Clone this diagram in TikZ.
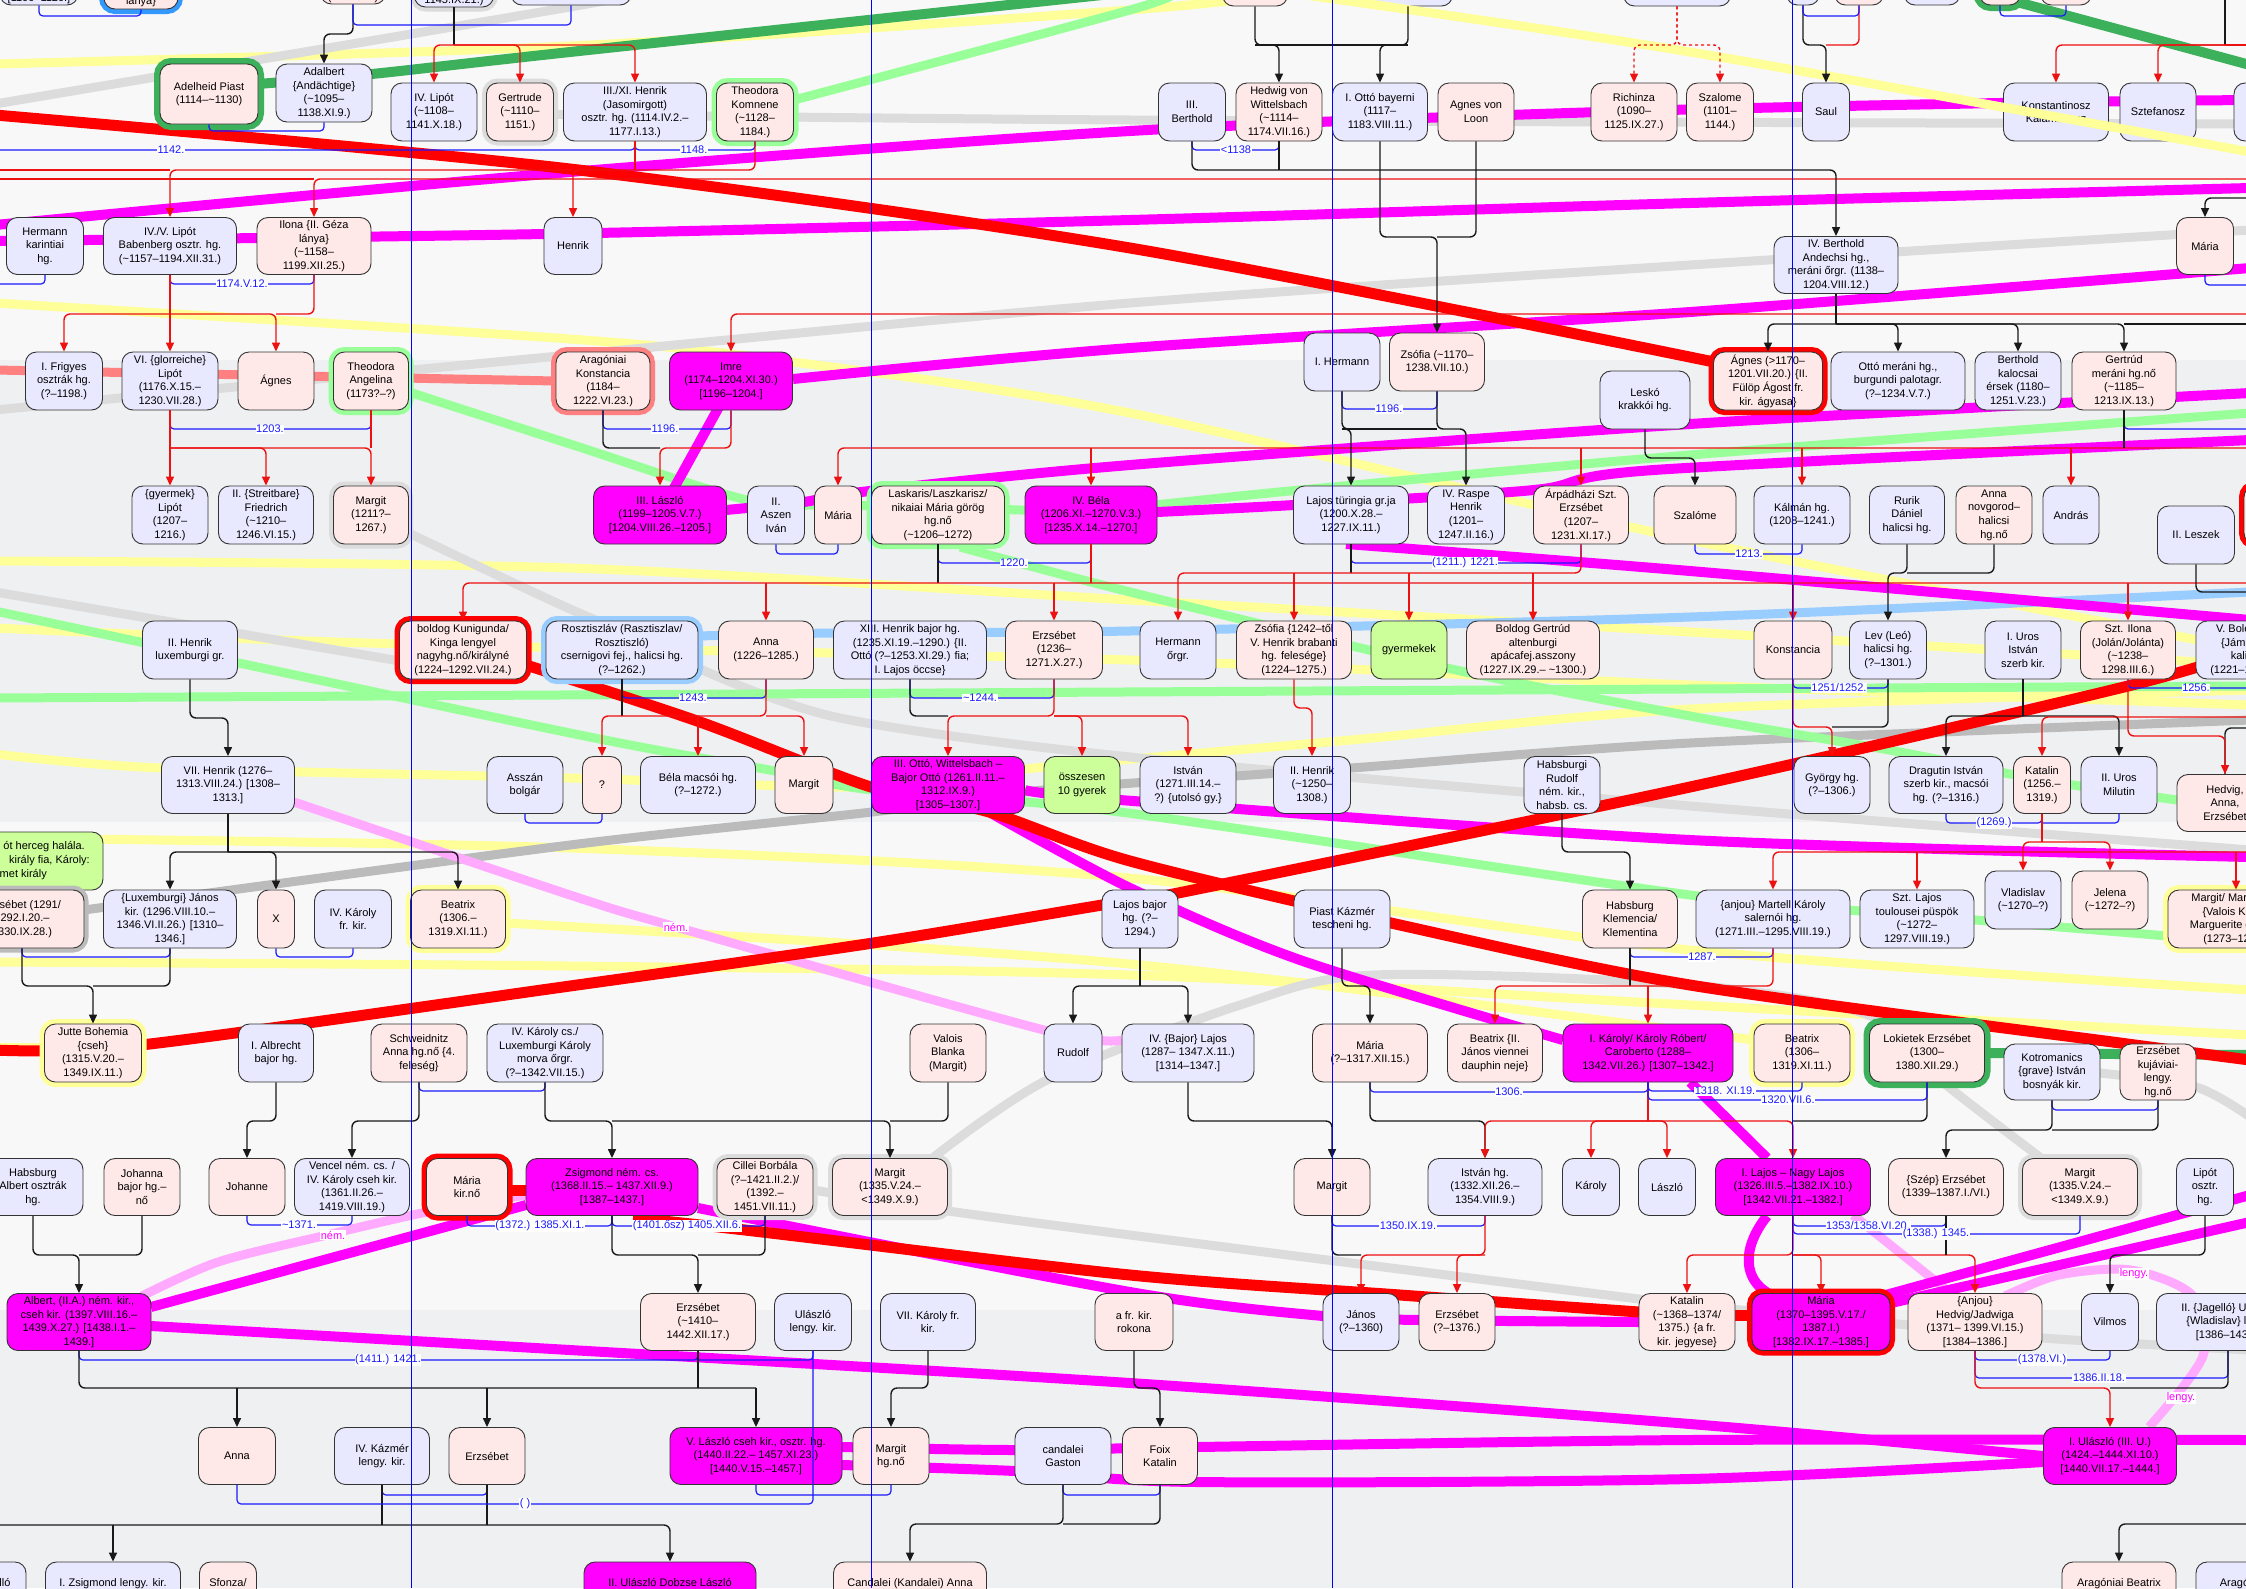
\documentclass[tikz,border=0pt]{standalone}
\usepackage{fontspec}
\setmainfont{Liberation Sans}
\usetikzlibrary{arrows.meta}
\definecolor{male}{HTML}{E8E8FF}
\definecolor{fem}{HTML}{FFE8E8}
\definecolor{king}{HTML}{FF00FF}
\definecolor{note}{HTML}{CCFF99}
\definecolor{bgA}{HTML}{F8F8F8}
\definecolor{bgB}{HTML}{EFF0F2}
\definecolor{mblue}{HTML}{1A1AFF}
\definecolor{rline}{HTML}{EE1111}
\definecolor{ylw}{HTML}{FFFF99}
\definecolor{lgray}{HTML}{DCDCDC}
\definecolor{dgray}{HTML}{BBBBBB}
\definecolor{lgreen}{HTML}{99FF99}
\definecolor{dgreen}{HTML}{3CB05A}
\definecolor{lblue}{HTML}{99CCFF}
\definecolor{salmon}{HTML}{FF8080}
\definecolor{pinkr}{HTML}{FFAAFF}
\definecolor{hblue}{HTML}{3399FF}
\newcommand\fs{\fontsize{11}{13.6}\selectfont}
\newcommand\tl{\textasciitilde}
\newcommand\bx[6]{\node[#1, minimum width=#4pt, minimum height=#5pt] (#2) at (#3) {#6};}
\tikzset{
 box/.style={rounded corners=11pt, draw=black!80, line width=0.9pt, align=center, inner sep=1.5pt, font=\fs, text=black},
 M/.style={box, fill=male}, F/.style={box, fill=fem}, K/.style={box, fill=king}, N/.style={box, fill=note},
 hgreen/.style={preaction={draw=dgreen, line width=12pt}},
 hlgreen/.style={preaction={draw=lgreen, line width=10pt}},
 hred/.style={preaction={draw=red, line width=10pt}},
 hsal/.style={preaction={draw=salmon, line width=10pt}},
 hgray/.style={preaction={draw=lgray, line width=9pt}},
 hdgray/.style={preaction={draw=dgray, line width=9pt}},
 hyel/.style={preaction={draw=ylw, line width=10pt}},
 hlblue/.style={preaction={draw=lblue, line width=10pt}},
 hblue/.style={preaction={draw=hblue, line width=10pt}},
 blk/.style={draw=black!90, line width=1.4pt, rounded corners=6pt},
 rd/.style={draw=rline, line width=1.4pt, rounded corners=6pt},
 ba/.style={blk, -{Triangle[length=9pt,width=8pt]}},
 ra/.style={rd, -{Triangle[length=9pt,width=8pt]}},
 mar/.style={draw=mblue, line width=1.2pt, rounded corners=4pt},
 lbl/.style={fill=white, text=mblue, inner sep=0.6pt, font=\fs},
 plbl/.style={fill=white, text=king, inner sep=0.6pt, font=\fs},
 toptxt/.style={font=\fs, anchor=base, inner sep=0pt},
 rib/.style={line width=9pt, line join=round},
 mg/.style={rib, draw=king, line width=10pt},
 rt/.style={rib, draw=red, line width=11pt},
}
\begin{document}
\begin{tikzpicture}[x=1pt,y=-1pt]
\useasboundingbox (0,0) rectangle (2246,1588);
\clip (0,0) rectangle (2246,1588);
\fill[bgA] (0,0) rectangle (2246,360);
\fill[bgB] (0,360) rectangle (2246,822);
\fill[bgA] (0,822) rectangle (2246,1310);
\fill[bgB] (0,1310) rectangle (2246,1588);
\foreach \y in {16,25,34,45,131,150,170,179,198,237,284,285,314,324,409,429,448,458,554,563,573,583,592,688,698,708,716,718,727,728,736,823,842,852,957,986,1091,1092,1100,1110,1121,1130,1225,1226,1234,1255,1360,1378,1388,1495,1504,1524,1525}{\coordinate (y\y) at (0,\y);}

% ---------- ribbons ----------
\draw[rib,ylw] plot[smooth] coordinates {(-5,64) (570,46) (1130,10) (1300,-8)};
\draw[rib,ylw] plot[smooth] coordinates {(-5,303) (570,339) (793,362) (1130,413) (1690,540) (2250,650)};
\draw[rib,ylw] plot[smooth] coordinates {(-5,561) (570,568) (1130,600) (1690,632) (2250,665)};
\draw[rib,ylw] plot[smooth] coordinates {(-5,628) (400,644) (1130,660) (1690,685) (2250,705)};
\draw[rib,ylw] plot[smooth] coordinates {(-5,754) (161,768) (570,778) (872,787) (1044,767) (1351,740) (1690,709) (2250,690)};
\draw[rib,ylw] plot[smooth] coordinates {(-5,838) (570,848) (1130,878) (1690,950) (2250,990)};
\draw[rib,ylw] plot[smooth] coordinates {(506,923) (1130,964) (1754,1040)};
\draw[rib,ylw] plot[smooth] coordinates {(-5,962) (570,966) (1130,975) (1690,1005) (2250,1035)};
\draw[rib,ylw] (-5,1047) -- (44,1047);

\draw[rib,lgray] plot[smooth] coordinates {(-5,104) (570,7) (640,-8)};
\draw[rib,lgray] plot[smooth] coordinates {(-5,410) (570,355) (1130,303) (1690,265) (2250,230)};
\draw[rib,lgray] plot[smooth] coordinates {(520,114) (1130,120) (2250,124)};
\draw[rib,lgray] plot[smooth] coordinates {(-5,592) (400,661)};
\draw[rib,lgray] plot[smooth] coordinates {(371,515) (570,609) (698,661)};
\draw[rib,lgray] plot[smooth] coordinates {(698,668) (840,718) (1130,757) (1690,806) (2250,850)};
\draw[rib,dgray] plot[smooth] coordinates {(84,910) (570,845) (872,812) (1044,790) (1351,768) (1690,743) (2250,720)};
\draw[rib,lgray] plot[smooth] coordinates {(930,1160) (1047,1080) (1240,1005) (1374,975) (1690,985) (1868,1015) (1940,1080) (2041,1158)};
\draw[rib,lgray] plot[smooth] coordinates {(813,1190) (948,1211) (1130,1235) (1639,1299) (1752,1311) (1908,1325) (2042,1338) (2250,1350)};
\draw[rib,lgray] plot[smooth] coordinates {(2100,1073) (2196,1087) (2250,1117)};

\draw[rib,lgreen] plot[smooth] coordinates {(794,100) (1130,10) (1175,-8)};
\draw[rib,lgreen] plot[smooth] coordinates {(409,392) (570,444) (747,500) (838,505) (938,507) (1091,510) (1300,490) (1690,455) (2250,413)};
\draw[rib,lgreen] plot[smooth] coordinates {(960,547) (1130,592) (1447,668) (1690,716) (1889,750) (2042,780) (2177,800)};
\draw[rib,lgreen] (-5,698) -- (2250,686);
\draw[rib,lgreen] plot[smooth] coordinates {(-5,611) (570,733) (775,771) (872,790) (1120,812) (1690,895) (1917,915) (2168,936)};
\draw[rib,lblue] plot[smooth] coordinates {(698,636) (833,633) (1130,631) (1690,617) (2250,592)};
\draw[rib,dgreen,line width=10pt] plot[smooth] coordinates {(258,84) (372,74) (570,52) (1130,-8)};
\draw[rib,dgreen,line width=10pt] (1980,-8) -- (2250,65);
\draw[rib,dgreen,line width=10pt] (1985,1053) -- (2250,1055);
\draw[rib,salmon] (-5,370) -- (556,381);

\draw[rib,pinkr] plot[smooth] coordinates {(294,802) (570,895) (676,927) (1044,1030) (1122,1040)};
\draw[rib,pinkr] plot[smooth] coordinates {(526,1195) (427,1212) (327,1235) (218,1262) (142,1296)};
\draw[rib,pinkr] plot[smooth] coordinates {(2149,1427) (2203,1356) (2193,1296) (2131,1270) (2059,1275) (2005,1296)};
\draw[rib,pinkr] (1853,1215) -- (1954,1296);

\draw[mg] plot[smooth] coordinates {(-5,225) (570,172) (1130,131) (1600,112) (2000,103) (2250,100)};
\draw[mg] plot[smooth] coordinates {(-5,241) (545,234) (1130,220) (1690,203) (2250,188)};
\draw[mg] plot[smooth] coordinates {(793,379) (1130,348) (1690,312) (2250,268)};
\draw[mg] (720,405) -- (673,490);
\draw[mg] plot[smooth] coordinates {(726,510) (804,502) (861,492) (1130,465) (1690,424) (2250,393)};
\draw[mg] plot[smooth] coordinates {(1157,512) (1294,505) (1534,490) (1654,470) (2250,440)};
\draw[mg] plot[smooth] coordinates {(1346,544) (1690,571) (2250,620)};
\draw[mg] plot[smooth] coordinates {(1025,790) (1120,800) (1690,840) (2250,857)};
\draw[mg] plot[smooth] coordinates {(989,812) (1130,888) (1300,960) (1563,1040)};
\draw[mg] (1690,1082) -- (1767,1158);
\draw[mg] (1767,1216) .. controls (1740,1250) and (1745,1280) .. (1768,1293);
\draw[mg] (526,1205) -- (151,1307);
\draw[mg] plot[smooth] coordinates {(151,1326) (570,1350) (1130,1383) (1690,1424) (2043,1456)};
\draw[mg] plot[smooth] coordinates {(842,1447) (1015,1450) (1197,1447) (1690,1440) (2250,1440)};
\draw[mg] plot[smooth] coordinates {(842,1465) (1015,1471) (1197,1482) (1690,1479) (2043,1462)};
\draw[mg] (1882,1296) -- (2250,1195);
\draw[mg] (1882,1305) -- (2250,1222);
\draw[mg] plot[smooth] coordinates {(698,1208) (1130,1292) (1323,1316) (1419,1320) (1639,1322)};

\draw[rt] plot[smooth] coordinates {(-5,115) (570,169) (1130,248) (1714,362)};
\draw[rt] plot[smooth] coordinates {(526,665) (700,722) (871,787) (989,812) (1130,861) (1400,925) (1690,985) (2120,1043) (2250,1060)};
\draw[rt] plot[smooth] coordinates {(-5,1050) (141,1045) (570,986) (873,943) (1102,905) (1178,893) (1690,787) (2124,687) (2250,650)};
\draw[rt] (508,1190) -- (526,1190);
\draw[rt] plot[smooth] coordinates {(633,1218) (745,1230) (1130,1275) (1400,1295) (1639,1312)};
\draw[rt] (1735,1315) -- (1752,1315);

% ---------- nodes ----------
% top partial row
\bx{M}{ta}{39,-24}{78}{58}{}
\bx{F,hblue}{tb}{141,-20}{74}{58}{}
\bx{F}{tc}{353,-25}{65}{58}{}
\bx{M,hgray}{td}{454,-22}{79}{58}{}
\bx{M}{te}{571,-24}{120}{58}{}
\bx{F}{tf}{1255,-23}{65}{58}{}
\bx{M}{tg}{1408,-23}{89}{58}{}
\bx{M}{th}{1677,-23}{107}{58}{}
\bx{M}{ti}{1803,-24}{33}{58}{}
\bx{F}{tj}{1859,-24}{49}{58}{}
\bx{M}{tk}{1932,-24}{56}{58}{}
\bx{F,hgreen}{tl}{2000,-24}{41}{58}{}
\bx{F}{tm}{2066,-24}{51}{58}{}
\node[toptxt] (tta) at (39,1) {[1100–1120.]};
\node[toptxt] (ttb) at (141,4) {lánya\}};
\node[toptxt] (ttc) at (353,0) {(\tl1070–?)};
\node[toptxt] (ttd) at (454,3) {1145.IX.21.)};
% row A
\bx{F,hgreen}{adelheid}{209,94}{98}{60}{Adelheid Piast\\(1114–\tl1130)}
\bx{M}{adalbert}{324,93}{96}{58}{Adalbert\\\{Andächtige\}\\(\tl1095–\\1138.XI.9.)}
\bx{M}{lipotiv}{434,112}{86}{58}{IV. Lipót\\(\tl1108–\\1141.X.18.)}
\bx{F,hgray}{gertrude}{520,112}{67}{58}{Gertrude\\(\tl1110–\\1151.)}
\bx{M}{henrikiii}{635,112}{143}{58}{III./XI. Henrik\\(Jasomirgott)\\osztr. hg. (1114.IV.2.–\\1177.I.13.)}
\bx{F,hlgreen}{theokomn}{755,112}{77}{58}{Theodora\\Komnene\\(\tl1128–\\1184.)}
\bx{M}{bertholdiii}{1192,112}{67}{58}{III.\\Berthold}
\bx{F}{hedwig}{1279,112}{86}{58}{Hedwig von\\Wittelsbach\\(\tl1114–\\1174.VII.16.)}
\bx{M}{ottoi}{1380,112}{95}{58}{I. Ottó bayerni\\(1117–\\1183.VIII.11.)}
\bx{F}{agnesloon}{1476,112}{76}{58}{Agnes von\\Loon}
\bx{F}{richinza}{1634,112}{86}{58}{Richinza\\(1090–\\1125.IX.27.)}
\bx{F}{szalomea}{1720,112}{67}{58}{Szalome\\(1101–\\1144.)}
\bx{M}{saul}{1826,112}{47}{58}{Saul}
\bx{M}{konst}{2056,112}{105}{58}{Konstantinosz\\Kalamanosz}
\bx{M}{sztef}{2158,112}{76}{58}{Sztefanosz}
\bx{M}{edgea}{2262,112}{56}{58}{}
% row B
\bx{M}{hermannk}{45,246}{77}{57}{Hermann\\karintiai\\hg.}
\bx{M}{lipotv}{170,246}{133}{57}{IV./V. Lipót\\Babenberg osztr. hg.\\(\tl1157–1194.XII.31.)}
\bx{F}{ilona}{314,246}{114}{57}{Ilona \{II. Géza\\lánya\}\\(\tl1158–\\1199.XII.25.)}
\bx{M}{henrik}{573,246}{58}{57}{Henrik}
\bx{M}{bertholdiv}{1836,265}{124}{57}{IV. Berthold\\Andechsi hg.,\\meráni őrgr. (1138–\\1204.VIII.12.)}
\bx{F}{mariab}{2205,246}{57}{57}{Mária}
% row C
\bx{M}{frigyes}{64,381}{77}{58}{I. Frigyes\\osztrák hg.\\(?–1198.)}
\bx{M}{lipotvi}{170,381}{96}{58}{VI. \{glorreiche\}\\Lipót\\(1176.X.15.–\\1230.VII.28.)}
\bx{F}{agnes}{276,381}{76}{58}{Ágnes}
\bx{F,hlgreen}{theoang}{371,381}{75}{58}{Theodora\\Angelina\\(1173?–?)}
\bx{F,hsal}{konstancia}{603,381}{94}{58}{Aragóniai\\Konstancia\\(1184–\\1222.VI.23.)}
\bx{K}{imre}{731,381}{123}{58}{Imre\\(1174–1204.XI.30.)\\{}[1196–1204.]}
\bx{M}{hermanni}{1342,362}{76}{58}{I. Hermann}
\bx{F}{zsofiaa}{1437,362}{95}{58}{Zsófia (\tl1170–\\1238.VII.10.)}
\bx{M}{lesko}{1645,400}{90}{58}{Leskó\\krakkói hg.}
\bx{F,hred}{agnesb}{1768,381}{109}{58}{Ágnes (>1170–\\1201.VII.20.) \{II.\\Fülöp Ágost fr.\\kir. ágyasa\}}
\bx{M}{ottomer}{1898,381}{134}{58}{Ottó meráni hg.,\\burgundi palotagr.\\(?–1234.V.7.)}
\bx{M}{bertholdk}{2018,381}{86}{58}{Berthold\\kalocsai\\érsek (1180–\\1251.V.23.)}
\bx{F}{gertrud}{2124,381}{104}{58}{Gertrúd\\meráni hg.nő\\(\tl1185–\\1213.IX.13.)}
% row D
\bx{M}{lipotgy}{170,515}{76}{58}{\{gyermek\}\\Lipót\\(1207–\\1216.)}
\bx{M}{friedrich}{266,515}{95}{58}{II. \{Streitbare\}\\Friedrich\\(\tl1210–\\1246.VI.15.)}
\bx{F,hgray}{margitd}{371,515}{75}{58}{Margit\\(1211?–\\1267.)}
\bx{K}{laszloiii}{660,515}{133}{58}{III. László\\(1199–1205.V.7.)\\{}[1204.VIII.26.–1205.]}
\bx{M}{aszen}{776,515}{57}{58}{II.\\Aszen\\Iván}
\bx{F}{mariad}{838,515}{47}{58}{Mária}
\bx{F,hlgreen}{laskaris}{938,515}{133}{58}{Laskaris/Laszkarisz/\\nikaiai Mária görög\\hg.nő\\(\tl1206–1272)}
\bx{K}{bela}{1091,515}{132}{58}{IV. Béla\\(1206.XI.–1270.V.3.)\\{}[1235.X.14.–1270.]}
\bx{M}{lajost}{1351,515}{115}{58}{Lajos türingia gr.ja\\(1200.X.28.–\\1227.IX.11.)}
\bx{M}{raspe}{1466,515}{77}{58}{IV. Raspe\\Henrik\\(1201–\\1247.II.16.)}
\bx{F}{erzsa}{1581,515}{95}{58}{Árpádházi Szt.\\Erzsébet\\(1207–\\1231.XI.17.)}
\bx{F}{szalomeb}{1695,515}{82}{58}{Szalóme}
\bx{M}{kalman}{1802,515}{96}{58}{Kálmán hg.\\(1208–1241.)}
\bx{M}{rurik}{1907,515}{75}{58}{Rurik\\Dániel\\halicsi hg.}
\bx{F}{annan}{1994,515}{76}{58}{Anna\\novgorod–\\halicsi\\hg.nő}
\bx{M}{andras}{2071,515}{56}{58}{András}
\bx{M}{leszek}{2196,535}{77}{58}{II. Leszek}
\bx{F,hred}{edged}{2272,515}{56}{58}{}
% row E
\bx{M}{henrikiilux}{190,650}{95}{58}{II. Henrik\\luxemburgi gr.}
\bx{F,hred}{kunigunda}{463,650}{127}{58}{boldog Kunigunda/\\Kinga lengyel\\nagyhg.nő/királyné\\(1224–1292.VII.24.)}
\bx{M,hlblue}{rosztiszlav}{622,650}{152}{58}{Rosztiszláv (Rasztiszlav/\\Rosztiszló)\\csernigovi fej., halicsi hg.\\(?–1262.)}
\bx{F}{annae}{766,650}{95}{58}{Anna\\(1226–1285.)}
\bx{M}{henrikxiii}{910,650}{153}{58}{XIII. Henrik bajor hg.\\(1235.XI.19.–1290.) \{II.\\Ottó (?–1253.XI.29.) fia;\\I. Lajos öccse\}}
\bx{F}{erzsebete}{1054,650}{97}{58}{Erzsébet\\(1236–\\1271.X.27.)}
\bx{M}{hermanno}{1178,650}{76}{58}{Hermann\\őrgr.}
\bx{F}{zsofiae}{1294,650}{115}{58}{Zsófia \{1242–től\\V. Henrik brabanti\\hg. felesége\}\\(1224–1275.)}
\bx{N}{gyermekek}{1409,650}{76}{58}{gyermekek}
\bx{F}{gertrudb}{1533,650}{133}{58}{Boldog Gertrúd\\altenburgi\\apácafej.asszony\\(1227.IX.29.– \tl1300.)}
\bx{F}{konstanciae}{1793,650}{78}{58}{Konstancia}
\bx{M}{lev}{1888,650}{77}{58}{Lev (Leó)\\halicsi hg.\\(?–1301.)}
\bx{M}{urosi}{2023,650}{76}{58}{I. Uros\\István\\szerb kir.}
\bx{F}{ilonaszt}{2128,650}{95}{58}{Szt. Ilona\\(Jolán/Jolánta)\\(\tl1238–\\1298.III.6.)}
\bx{M}{boleslaw}{2243,650}{94}{58}{V. Boleszló\\\{Jámbor\}\\kalisi\\(1221–1279.)}
% row F
\bx{M}{henrikvii}{228,785}{133}{57}{VII. Henrik (1276–\\1313.VIII.24.) [1308–\\1313.]}
\bx{M}{asszan}{525,785}{76}{57}{Asszán\\bolgár}
\bx{F}{qmark}{602,785}{39}{57}{?}
\bx{M}{belam}{698,785}{115}{57}{Béla macsói hg.\\(?–1272.)}
\bx{F}{margitf}{804,785}{58}{57}{Margit}
\bx{K}{ottoiii}{948,785}{153}{57}{III. Ottó, Wittelsbach –\\Bajor Ottó (1261.II.11.–\\1312.IX.9.)\\{}[1305–1307.]}
\bx{N}{osszesen}{1082,785}{76}{57}{összesen\\10 gyerek}
\bx{M}{istvanf}{1188,785}{96}{57}{István\\(1271.III.14.–\\?) \{utolsó gy.\}}
\bx{M}{henrikii}{1312,785}{77}{57}{II. Henrik\\(\tl1250–\\1308.)}
\bx{M}{rudolfh}{1562,785}{76}{57}{Habsburgi\\Rudolf\\ném. kir.,\\habsb. cs.}
\bx{M}{gyorgy}{1832,785}{76}{57}{György hg.\\(?–1306.)}
\bx{M}{dragutin}{1946,785}{114}{57}{Dragutin István\\szerb kir., macsói\\hg. (?–1316.)}
\bx{F}{katalinf}{2042,785}{57}{57}{Katalin\\(1256.–\\1319.)}
\bx{M}{urosii}{2119,785}{76}{57}{II. Uros\\Milutin}
\bx{F}{hedvigf}{2225,803}{96}{57}{Hedvig,\\Anna,\\Erzsébet}
% row G
\node[N, minimum width=170pt, minimum height=58pt] (note) at (18,861) {};
\node[font=\fs, anchor=east, inner sep=0pt] (nt1) at (85,847) {ót herceg halála.};
\node[font=\fs, anchor=east, inner sep=0pt] (nt2) at (90,861) {király fia, Károly:};
\node[font=\fs, anchor=east, inner sep=0pt] (nt3) at (47,875) {met király};
\bx{F,hdgray}{erzsebetg}{22,919}{124}{58}{Erzsébet (1291/\\1292.I.20.–\\1330.IX.28.)}
\bx{M}{janosl}{170,919}{133}{58}{\{Luxemburgi\} János\\kir. (1296.VIII.10.–\\1346.VI.II.26.) [1310–\\1346.]}
\bx{F}{xnode}{276,919}{37}{58}{X}
\bx{M}{karolyfr}{353,919}{77}{58}{IV. Károly\\fr. kir.}
\bx{F,hyel}{beatrixg}{458,919}{95}{58}{Beatrix\\(1306.–\\1319.XI.11.)}
\bx{M}{lajosb}{1140,919}{76}{58}{Lajos bajor\\hg. (?–\\1294.)}
\bx{M}{piast}{1342,919}{96}{58}{Piast Kázmér\\tescheni hg.}
\bx{F}{klemencia}{1630,919}{95}{58}{Habsburg\\Klemencia/\\Klementina}
\bx{M}{martell}{1773,919}{154}{58}{\{anjou\} Martell Károly\\salernói hg.\\(1271.III.–1295.VIII.19.)}
\bx{M}{lajossz}{1917,919}{114}{58}{Szt. Lajos\\toulousei püspök\\(\tl1272–\\1297.VIII.19.)}
\bx{M}{vladislav}{2023,900}{76}{58}{Vladislav\\(\tl1270–?)}
\bx{F}{jelena}{2110,900}{76}{58}{Jelena\\(\tl1272–?)}
\bx{F,hyel}{margitm}{2236,919}{136}{58}{Margit/ Marguerite\\\{Valois Károly\\Marguerite d'Anjou\\(1273–1299.)}
% row H
\bx{F,hyel}{jutte}{93,1053}{97}{58}{Jutte Bohemia\\\{cseh\}\\(1315.V.20.–\\1349.IX.11.)}
\bx{M}{albrecht}{276,1053}{75}{58}{I. Albrecht\\bajor hg.}
\bx{F}{schweidnitz}{419,1053}{96}{58}{Schweidnitz\\Anna hg.nő \{4.\\feleség\}}
\bx{M}{karolycs}{545,1053}{116}{58}{IV. Károly cs./\\Luxemburgi Károly\\morva őrgr.\\(?–1342.VII.15.)}
\bx{F}{blanka}{948,1053}{76}{58}{Valois\\Blanka\\(Margit)}
\bx{M}{rudolf}{1073,1053}{58}{58}{Rudolf}
\bx{M}{lajosiv}{1188,1053}{132}{58}{IV. \{Bajor\} Lajos\\(1287– 1347.X.11.)\\{}[1314–1347.]}
\bx{F}{mariah}{1370,1053}{115}{58}{Mária\\(?–1317.XII.15.)}
\bx{F}{beatrixh}{1495,1053}{95}{58}{Beatrix \{II.\\János viennei\\dauphin neje\}}
\bx{K}{karolyegy}{1648,1053}{170}{58}{I. Károly/ Károly Róbert/\\Caroberto (1288–\\1342.VII.26.) [1307–1342.]}
\bx{F,hyel}{beatrixh2}{1802,1053}{96}{58}{Beatrix\\(1306–\\1319.XI.11.)}
\bx{F,hgreen}{lokietek}{1927,1053}{115}{58}{Lokietek Erzsébet\\(1300–\\1380.XII.29.)}
\bx{M}{kotromanics}{2052,1072}{96}{56}{Kotromanics\\\{grave\} István\\bosnyák kir.}
\bx{F}{erzsebetk}{2158,1072}{76}{56}{Erzsébet\\kujáviai-\\lengy.\\hg.nő}
% row I
\bx{M}{alberth}{33,1187}{100}{57}{Habsburg\\Albert osztrák\\hg.}
\bx{F}{johanna}{142,1187}{76}{57}{Johanna\\bajor hg.–\\nő}
\bx{F}{johanne}{247,1187}{76}{57}{Johanne}
\bx{M}{vencel}{352,1187}{115}{57}{Vencel ném. cs. /\\IV. Károly cseh kir.\\(1361.II.26.–\\1419.VIII.19.)}
\bx{F,hred}{mariak}{467,1187}{81}{57}{Mária\\kir.nő}
\bx{K}{zsigmond}{612,1187}{172}{57}{Zsigmond ném. cs.\\(1368.II.15.– 1437.XII.9.)\\{}[1387–1437.]}
\bx{F,hgray}{cillei}{765,1187}{96}{57}{Cillei Borbála\\(?–1421.II.2.)/\\(1392.–\\1451.VII.11.)}
\bx{F,hgray}{margiti}{890,1187}{115}{57}{Margit\\(1335.V.24.–\\<1349.X.9.)}
\bx{F}{margitii}{1332,1187}{76}{57}{Margit}
\bx{M}{istvanhg}{1485,1187}{114}{57}{István hg.\\(1332.XII.26.–\\1354.VIII.9.)}
\bx{M}{karolyk}{1591,1187}{57}{57}{Károly}
\bx{M}{laszlok}{1667,1187}{57}{57}{László}
\bx{K}{lajosegy}{1793,1187}{155}{57}{I. Lajos – Nagy Lajos\\(1326.III.5.–1382.IX.10.)\\{}[1342.VII.21.–1382.]}
\bx{F}{szeperzs}{1946,1187}{115}{57}{\{Szép\} Erzsébet\\(1339–1387.I./VI.)}
\bx{F,hgray}{margitiii}{2080,1187}{115}{57}{Margit\\(1335.V.24.–\\<1349.X.9.)}
\bx{M}{lipoti}{2205,1187}{57}{57}{Lipót\\osztr.\\hg.}
% row J
\bx{K}{albert}{79,1322}{144}{57}{Albert, (II.A.) ném. kir.,\\cseh kir. (1397.VIII.16.–\\1439.X.27.) [1438.I.1.–\\1439.]}
\bx{F}{erzsebetj}{698,1322}{115}{57}{Erzsébet\\(\tl1410–\\1442.XII.17.)}
\bx{M}{ulaszlo}{813,1322}{77}{57}{Ulászló\\lengy. kir.}
\bx{M}{karolyvii}{928,1322}{95}{57}{VII. Károly fr.\\kir.}
\bx{F}{rokona}{1134,1322}{78}{57}{a fr. kir.\\rokona}
\bx{M}{janosj}{1361,1322}{76}{57}{János\\(?–1360)}
\bx{F}{erzsebetjj}{1457,1322}{76}{57}{Erzsébet\\(?–1376.)}
\bx{F}{katalinj}{1687,1322}{96}{57}{Katalin\\(\tl1368–1374/\\1375.) \{a fr.\\kir. jegyese\}}
\bx{K,hred}{maria}{1821,1322}{138}{57}{Mária\\(1370–1395.V.17./\\1387.I.)\\{}[1382.IX.17.–1385.]}
\bx{F}{hedvig}{1975,1322}{134}{57}{\{Anjou\}\\Hedvig/Jadwiga\\(1371– 1399.VI.15.)\\{}[1384–1386.]}
\bx{M}{vilmos}{2110,1322}{57}{57}{Vilmos}
\bx{M}{jagello}{2228,1322}{143}{57}{II. \{Jagelló\} Ulászló\\\{Wladislav\} litván\\{}[1386–1434.]}
% row K
\bx{F}{annak}{237,1456}{77}{57}{Anna}
\bx{M}{kazmer}{382,1456}{95}{57}{IV. Kázmér\\lengy. kir.}
\bx{F}{erzsebetkk}{487,1456}{76}{57}{Erzsébet}
\bx{K}{laszlov}{756,1456}{172}{57}{V. László cseh kir., osztr. hg.\\(1440.II.22.– 1457.XI.23.)\\{}[1440.V.15.–1457.]}
\bx{F}{margithg}{891,1456}{76}{57}{Margit\\hg.nő}
\bx{M}{gaston}{1063,1456}{96}{57}{candalei\\Gaston}
\bx{F}{foix}{1160,1456}{75}{57}{Foix\\Katalin}
\bx{K}{ulaszloi}{2110,1456}{133}{57}{I. Ulászló (III. U.)\\(1424.–1444.XI.10.)\\{}[1440.VII.17.–1444.]}
% row L
\bx{M}{partl}{-7,1591}{66}{58}{Jagelló\\\strut}
\bx{M}{zsigmondl}{113,1591}{135}{58}{I. Zsigmond lengy. kir.\\\strut}
\bx{F}{sfonza}{228,1591}{57}{58}{Sfonza/\\\strut}
\bx{K}{ulaszloii}{670,1591}{172}{58}{II. Ulászló Dobzse László\\\strut}
\bx{F}{candalei}{910,1591}{153}{58}{Candalei (Kandalei) Anna\\\strut}
\bx{F}{beatrixar}{2119,1591}{114}{58}{Aragóniai Beatrix\\\strut}
\bx{M}{aragb}{2243,1591}{94}{58}{Aragóniai\\\strut}

% yellow ribbon lying over the top-right nodes
\draw[rib,ylw] plot[smooth] coordinates {(1284,-8) (1690,52) (2250,152)};

% ---------- connectors ----------
% top
\draw[ba] (tc.south) |- (adalbert.north|-y34) -- (adalbert.north);
\draw[mar] (ta.south) -- (ta.south|-y16) -| (tb.south);
\draw[mar] (tc.south) -- (tc.south|-y25) -| (te.south);
\draw[blk] (td.south) -- (td.south|-y45);
\draw[ra] (td.south|-y45) -| (lipotiv.north);
\draw[ra] (td.south|-y45) -| (gertrude.north);
\draw[ra] (td.south|-y45) -| (henrikiii.north);
\draw[mar] (adelheid.south) -- (adelheid.south|-y131) -| (adalbert.south);
\draw[mar] (-5,150) -| (henrikiii.south);
\draw[mar] (henrikiii.south) -- (henrikiii.south|-y150) -| (theokomn.south);
\draw[rd] (theokomn.south) |- (henrikiii.south|-y170);
\draw[rd] (henrikiii.south) -- (henrikiii.south|-y170);
\draw[ra] (henrikiii.south|-y170) -| (henrik.north);
\draw[ra] (henrik.north|-y170) -| (lipotv.north);
\draw[rd] (lipotv.north|-y170) -- (-5,170);
\draw[ra] (2250,179) -| (ilona.north);
\draw[rd] (ilona.north|-y179) -- (-5,179);
\draw[ba] (tf.south) |- (hedwig.north|-y45) -- (hedwig.north);
\draw[ba] (tg.south) |- (ottoi.north|-y45) -- (ottoi.north);
\draw[blk] (tf.south|-y45) -- (tg.south|-y45);
\draw[ra, dashed] (th.south) |- (richinza.north|-y45) -- (richinza.north);
\draw[ra, dashed] (th.south) |- (szalomea.north|-y45) -- (szalomea.north);
\draw[ba] (ti.south) |- (saul.north|-y45) -- (saul.north);
\draw[rd] (tj.south) |- (saul.north|-y45);
\draw[mar] (ti.south) -- (ti.south|-y16) -| (tj.south);
\coordinate (tkk) at (2225,-5);
\draw[blk] (tkk) -- (tkk|-y45);
\draw[ra] (tkk|-y45) -| (konst.north);
\draw[ra] (tkk|-y45) -| (sztef.north);
\draw[rd] (tkk|-y45) -- (2250,45);
\draw[mar] (tl.south) -- (tl.south|-y16) -| (tm.south);
\draw[mar] (bertholdiii.south) -- (bertholdiii.south|-y150) -| (hedwig.south);
\draw[ba] (bertholdiii.south) |- (bertholdiv.north|-y170) -- (bertholdiv.north);
\draw[blk] (hedwig.south) -- (hedwig.south|-y170);
\draw[ba] (ottoi.south) |- (zsofiaa.north|-y237) -- (zsofiaa.north);
\draw[blk] (agnesloon.south) |- (zsofiaa.north|-y237);
\draw[ba] (2250,198) -| (mariab.north);
\draw[mar] (mariab.south) -- (mariab.south|-y285) -- (2250,285);
% row B -> C
\draw[mar] (lipotv.south) -- (lipotv.south|-y284) -| (ilona.south);
\draw[mar] (hermannk.south) -- (hermannk.south|-y284) -- (-5,284);
\draw[rd] (lipotv.south) -- (lipotv.south|-y314);
\draw[rd] (ilona.south) |- (agnes.north|-y314);
\draw[ra] (lipotv.south|-y314) -| (frigyes.north);
\draw[ra] (lipotv.south|-y314) -- (lipotvi.north);
\draw[ra] (lipotv.south|-y314) -| (agnes.north);
\draw[ra] (2250,314) -| (imre.north);
\draw[blk] (bertholdiv.south) -- (bertholdiv.south|-y324);
\draw[ba] (bertholdiv.south|-y324) -| (agnesb.north);
\draw[ba] (bertholdiv.south|-y324) -| (ottomer.north);
\draw[ba] (bertholdiv.south|-y324) -| (bertholdk.north);
\draw[ba] (bertholdiv.south|-y324) -| (gertrud.north);
\draw[blk] (gertrud.north|-y324) -- (2250,324);
% row C -> D
\draw[mar] (lipotvi.south) -- (lipotvi.south|-y429) -| (theoang.south);
\draw[rd] (theoang.south) -- (theoang.south|-y448);
\draw[ra] (lipotvi.south) -- (lipotgy.north);
\draw[ra] (lipotvi.south|-y448) -| (friedrich.north);
\draw[ra] (lipotvi.south|-y448) -| (margitd.north);
\draw[mar] (konstancia.south) -- (konstancia.south|-y429) -| (imre.south);
\draw[blk] (konstancia.south) |- (laszloiii.north|-y448);
\draw[ra] (imre.south) |- (laszloiii.north|-y448) -- (laszloiii.north);
\draw[ra] (2250,448) -| (mariad.north);
\draw[ra] (bela.north|-y448) -- (bela.north);
\draw[ra] (erzsa.north|-y448) -- (erzsa.north);
\draw[ra] (kalman.north|-y448) -- (kalman.north);
\draw[ra] (andras.north|-y448) -- (andras.north);
\draw[mar] (gertrud.south) -- (gertrud.south|-y429) -- (2250,429);
\draw[blk] (gertrud.south) -- (gertrud.south|-y448);
\draw[mar] (hermanni.south) -- (hermanni.south|-y409) -| (zsofiaa.south);
\draw[ba] (hermanni.south) |- (lajost.north|-y429) -- (lajost.north);
\draw[ba] (zsofiaa.south) |- (raspe.north|-y429) -- (raspe.north);
\draw[blk] (hermanni.south|-y429) -- (zsofiaa.south|-y429);
\draw[ba] (lesko.south) |- (szalomeb.north|-y458) -- (szalomeb.north);
% row D -> E
\draw[mar] (aszen.south) -- (aszen.south|-y554) -| (mariad.south);
\draw[mar] (laskaris.south) -- (laskaris.south|-y563) -| (bela.south);
\draw[blk] (laskaris.south) -- (laskaris.south|-y583);
\draw[rd] (bela.south) -- (bela.south|-y583);
\draw[ra] (2250,583) -| (kunigunda.north);
\draw[ra] (annae.north|-y583) -- (annae.north);
\draw[ra] (erzsebete.north|-y583) -- (erzsebete.north);
\draw[ra] (konstanciae.north|-y583) -- (konstanciae.north);
\draw[ra] (ilonaszt.north|-y583) -- (ilonaszt.north);
\draw[mar] (lajost.south) -- (lajost.south|-y563) -| (erzsa.south);
\draw[blk] (lajost.south) -- (lajost.south|-y573);
\draw[ra] (erzsa.south) |- (hermanno.north|-y573) -- (hermanno.north);
\draw[ra] (zsofiae.north|-y573) -- (zsofiae.north);
\draw[ra] (gyermekek.north|-y573) -- (gyermekek.north);
\draw[ra] (gertrudb.north|-y573) -- (gertrudb.north);
\draw[mar] (szalomeb.south) -- (szalomeb.south|-y554) -| (kalman.south);
\draw[ba] (rurik.south) |- (lev.north|-y573) -- (lev.north);
\draw[blk] (annan.south) |- (rurik.south|-y573);
\draw[blk] (leszek.south) |- (2250,592);
% row E -> F
\draw[mar] (rosztiszlav.south) -- (rosztiszlav.south|-y698) -| (annae.south);
\draw[blk] (rosztiszlav.south) -- (rosztiszlav.south|-y716);
\draw[ra] (annae.south) |- (qmark.north|-y716) -- (qmark.north);
\draw[ra] (belam.north|-y716) -- (belam.north);
\draw[ra] (annae.south|-y716) -| (margitf.north);
\draw[mar] (henrikxiii.south) -- (henrikxiii.south|-y698) -| (erzsebete.south);
\draw[blk] (henrikxiii.south) |- (ottoiii.north|-y716);
\draw[ra] (erzsebete.south) |- (ottoiii.north|-y716) -- (ottoiii.north);
\draw[ra] (erzsebete.south|-y716) -| (osszesen.north);
\draw[ra] (erzsebete.south|-y716) -| (istvanf.north);
\draw[ra] (zsofiae.south) |- (henrikii.north|-y708) -- (henrikii.north);
\draw[ba] (henrikiilux.south) |- (henrikvii.north|-y718) -- (henrikvii.north);
\draw[mar] (konstanciae.south) -- (konstanciae.south|-y688) -| (lev.south);
\draw[ra] (konstanciae.south) |- (gyorgy.north|-y727) -- (gyorgy.north);
\draw[blk] (lev.south) |- (gyorgy.north|-y727);
\draw[blk] (urosi.south) -- (urosi.south|-y716);
\draw[ba] (urosi.south|-y716) -| (dragutin.north);
\draw[ba] (urosi.south|-y716) -| (urosii.north);
\draw[mar] (ilonaszt.south) -- (ilonaszt.south|-y688) -- (2250,688);
\draw[blk] (2250,728) -| (hedvigf.north);
\draw[ra] (ilonaszt.south) |- (hedvigf.north|-y736) -- (hedvigf.north);
\draw[ra] (2250,717) -| (katalinf.north);
% row F -> G
\draw[mar] (asszan.south) -- (asszan.south|-y823) -| (qmark.south);
\draw[mar] (dragutin.south) -- (dragutin.south|-y823) -| (katalinf.south);
\draw[mar] (katalinf.south|-y823) -| (urosii.south);
\draw[rd] (katalinf.south) -- (katalinf.south|-y842);
\draw[ra] (katalinf.south|-y842) -| (vladislav.north);
\draw[ra] (katalinf.south|-y842) -| (jelena.north);
\draw[blk] (henrikvii.south) -- (henrikvii.south|-y852);
\draw[ba] (henrikvii.south|-y852) -| (janosl.north);
\draw[ba] (henrikvii.south|-y852) -| (xnode.north);
\draw[ba] (henrikvii.south|-y852) -| (beatrixg.north);
\draw[ra] (2250,852) -| (martell.north);
\draw[ra] (lajossz.north|-y852) -- (lajossz.north);
\draw[ra] (margitm.north|-y852) -- (margitm.north);
\draw[ba] (rudolfh.south) |- (klemencia.north|-y852) -- (klemencia.north);
% row G -> H
\draw[mar] (erzsebetg.south) -- (erzsebetg.south|-y957) -| (janosl.south);
\draw[ba] (erzsebetg.south) |- (jutte.north|-y986) -- (jutte.north);
\draw[blk] (janosl.south) |- (jutte.north|-y986);
\draw[mar] (xnode.south) -- (xnode.south|-y957) -| (karolyfr.south);
\draw[blk] (lajosb.south) -- (lajosb.south|-y986);
\draw[ba] (lajosb.south|-y986) -| (rudolf.north);
\draw[ba] (lajosb.south|-y986) -| (lajosiv.north);
\draw[ba] (piast.south) |- (mariah.north|-y986) -- (mariah.north);
\draw[mar] (klemencia.south) -- (klemencia.south|-y957) -| (martell.south);
\draw[blk] (klemencia.south) -- (klemencia.south|-y986);
\draw[ra] (martell.south) |- (beatrixh.north|-y986) -- (beatrixh.north);
\draw[ra] (karolyegy.north|-y986) -- (karolyegy.north);
% row H -> I
\draw[ba] (albrecht.south) |- (johanne.north|-y1121) -- (johanne.north);
\draw[mar] (schweidnitz.south) -- (schweidnitz.south|-y1091) -| (karolycs.south);
\draw[ba] (schweidnitz.south) |- (vencel.north|-y1121) -- (vencel.north);
\draw[ba] (karolycs.south) |- (zsigmond.north|-y1121) -- (zsigmond.north);
\draw[ba] (zsigmond.north|-y1121) -| (margiti.north);
\draw[blk] (blanka.south) |- (margiti.north|-y1121);
\draw[ba] (lajosiv.south) |- (margitii.north|-y1121) -- (margitii.north);
\draw[mar] (mariah.south) -- (mariah.south|-y1092) -| (karolyegy.south);
\draw[ba] (mariah.south) |- (istvanhg.north|-y1121) -- (istvanhg.north);
\draw[rd] (karolyegy.south) -- (karolyegy.south|-y1121);
\draw[ra] (karolyegy.south|-y1121) -| (istvanhg.north);
\draw[ra] (karolyegy.south|-y1121) -| (karolyk.north);
\draw[ra] (karolyegy.south|-y1121) -| (laszlok.north);
\draw[ra] (karolyegy.south|-y1121) -| (lajosegy.north);
\draw[blk] (lokietek.south) |- (lajosegy.north|-y1121);
\draw[mar] (karolyegy.south) -- (karolyegy.south|-y1091) -| (beatrixh2.south);
\draw[mar] (karolyegy.south) -- (karolyegy.south|-y1100) -| (lokietek.south);
\draw[mar] (kotromanics.south) -- (kotromanics.south|-y1110) -| (erzsebetk.south);
\draw[ba] (kotromanics.south) |- (szeperzs.north|-y1130) -- (szeperzs.north);
\draw[blk] (erzsebetk.south) |- (kotromanics.south|-y1130);
% row I -> J
\draw[mar] (johanne.south) -- (johanne.south|-y1225) -| (vencel.south);
\draw[mar] (mariak.south) -- (mariak.south|-y1226) -| (zsigmond.south);
\draw[mar] (zsigmond.south) -- (zsigmond.south|-y1226) -| (cillei.south);
\draw[ba] (zsigmond.south) |- (erzsebetj.north|-y1255) -- (erzsebetj.north);
\draw[blk] (cillei.south) |- (erzsebetj.north|-y1255);
\draw[ba] (alberth.south) |- (albert.north|-y1255) -- (albert.north);
\draw[blk] (johanna.south) |- (albert.north|-y1255);
\draw[mar] (margitii.south) -- (margitii.south|-y1226) -| (istvanhg.south);
\draw[blk] (margitii.south) |- (janosj.north|-y1255);
\draw[ra] (istvanhg.south) |- (janosj.north|-y1255) -- (janosj.north);
\draw[ra] (istvanhg.south|-y1255) -| (erzsebetjj.north);
\draw[mar] (lajosegy.south) -- (lajosegy.south|-y1226) -| (szeperzs.south);
\draw[mar] (lajosegy.south) -- (lajosegy.south|-y1234) -| (margitiii.south);
\draw[ra] (lajosegy.south) |- (katalinj.north|-y1255) -- (katalinj.north);
\draw[ra] (lajosegy.south|-y1255) -| (maria.north);
\draw[ra] (lajosegy.south|-y1255) -| (hedvig.north);
\draw[blk] (szeperzs.south) -- (szeperzs.south|-y1255);
\draw[ba] (lipoti.south) |- (vilmos.north|-y1255) -- (vilmos.north);
% row J -> K
\draw[mar] (albert.south) -- (albert.south|-y1360) -| (erzsebetj.south);
\draw[mar] (erzsebetj.south|-y1360) -| (ulaszlo.south);
\draw[blk] (albert.south) |- (laszlov.north|-y1388);
\draw[ba] (annak.north|-y1388) -- (annak.north);
\draw[ba] (erzsebetkk.north|-y1388) -- (erzsebetkk.north);
\draw[ba] (laszlov.north|-y1388) -- (laszlov.north);
\draw[blk] (erzsebetj.south) -- (erzsebetj.south|-y1388);
\draw[ba] (karolyvii.south) |- (margithg.north|-y1388) -- (margithg.north);
\draw[ba] (rokona.south) |- (foix.north|-y1388) -- (foix.north);
\draw[mar] (hedvig.south) -- (hedvig.south|-y1360) -| (vilmos.south);
\draw[mar] (hedvig.south) -- (hedvig.south|-y1378) -| (jagello.south);
\draw[ra] (hedvig.south) |- (ulaszloi.north|-y1388) -- (ulaszloi.north);
\draw[blk] (jagello.south) |- (ulaszloi.north|-y1388);
% row K -> L
\draw[mar] (kazmer.south) -- (kazmer.south|-y1495) -| (erzsebetkk.south);
\draw[blk] (kazmer.south) -- (kazmer.south|-y1525);
\draw[blk] (erzsebetkk.south) -- (erzsebetkk.south|-y1525);
\draw[ba] (-5,1525) -| (ulaszloii.north);
\draw[ba] (zsigmondl.north|-y1525) -- (zsigmondl.north);
\draw[mar] (laszlov.south) -- (laszlov.south|-y1495) -| (margithg.south);
\draw[mar] (gaston.south) -- (gaston.south|-y1495) -| (foix.south);
\draw[ba] (gaston.south) |- (candalei.north|-y1524) -- (candalei.north);
\draw[blk] (foix.south) |- (gaston.south|-y1524);
\draw[ba] (2250,1524) -| (beatrixar.north);
\draw[mar] (annak.south) -- (annak.south|-y1504) -| (ulaszlo.south);

% ---------- labels ----------
\node[lbl] (la1) at (171,150) {1142.};
\node[lbl] (la2) at (694,150) {1148.};
\node[lbl] (la3) at (1236,150) {<1138};
\node[lbl] (la4) at (242,284) {1174.V.12.};
\node[lbl] (la5) at (270,429) {1203.};
\node[lbl] (la6) at (665,429) {1196.};
\node[lbl] (la7) at (1389,409) {1196.};
\node[lbl] (la8) at (1014,563) {1220.};
\node[lbl] (la9) at (1465,563) {(1211.) 1221.};
\node[lbl] (la10) at (1749,554) {1213.};
\node[lbl] (la11) at (693,698) {1243.};
\node[lbl] (la12) at (980,698) {\tl1244.};
\node[lbl] (la13) at (1839,688) {1251/1252.};
\node[lbl] (la14) at (2196,688) {1256.};
\node[lbl] (la15) at (1994,823) {(1269.)};
\node[lbl] (la16) at (1702,957) {1287.};
\node[lbl] (la17) at (1509,1092) {1306.};
\node[lbl] (la18) at (1725,1091) {1318. XI.19.};
\node[lbl] (la19) at (1788,1100) {1320.VII.6.};
\node[lbl] (la20) at (299,1225) {\tl1371.};
\node[lbl] (la21) at (540,1226) {(1372.) 1385.XI.1.};
\node[lbl] (la22) at (687,1226) {(1401.ősz) 1405.XII.6.};
\node[lbl] (la23) at (1408,1226) {1350.IX.19.};
\node[lbl] (la24) at (1868,1226) {1353/1358.VI.20.};
\node[lbl] (la25) at (1936,1234) {(1338.) 1345.};
\node[lbl] (la26) at (388,1360) {(1411.) 1421.};
\node[lbl] (la27) at (2042,1360) {(1378.VI.)};
\node[lbl] (la28) at (2099,1378) {1386.II.18.};
\node[lbl] (la29) at (525,1504) {( )};
\node[plbl] (pl1) at (676,927) {ném.};
\node[plbl] (pl2) at (333,1235) {ném.};
\node[plbl] (pl3) at (2134,1274) {lengy.};
\node[plbl] (pl4) at (2181,1398) {lengy.};

% ---------- vertical guide lines ----------
\foreach \x in {411,871,1332,1792}{\draw[blue, line width=1pt] (\x,0) -- (\x,1588);}
\end{tikzpicture}
\end{document}
